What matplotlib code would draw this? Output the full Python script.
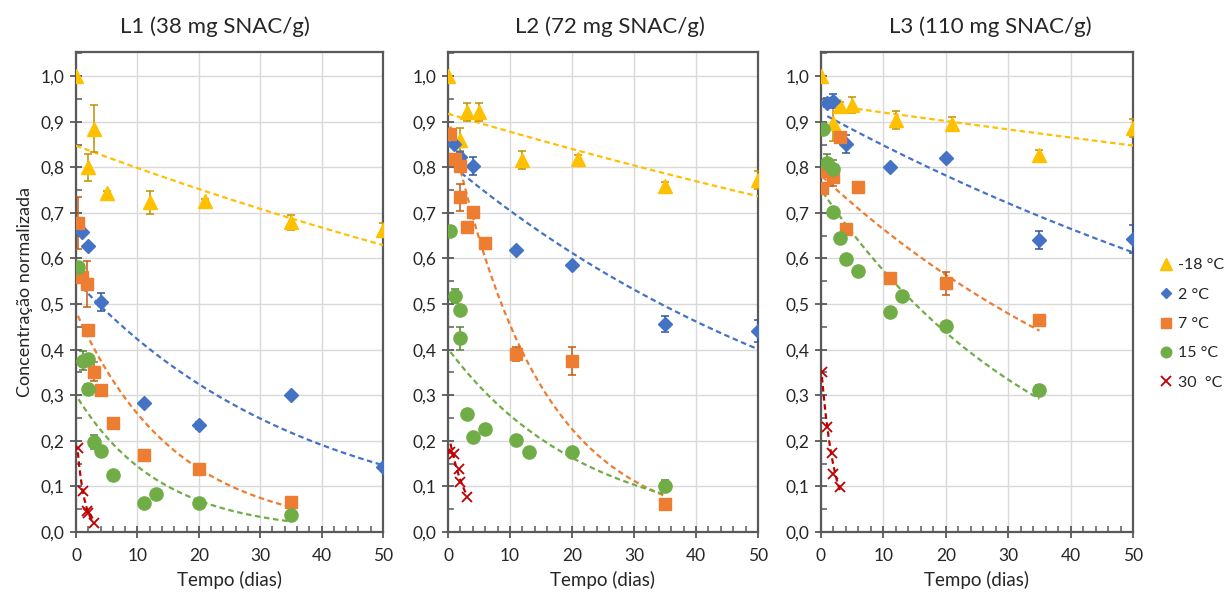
import numpy as np
import matplotlib
matplotlib.use("Agg")
import matplotlib.pyplot as plt
from matplotlib.ticker import MultipleLocator, FuncFormatter
from matplotlib.lines import Line2D

plt.rcParams['font.family'] = ['Lato', 'DejaVu Sans']

panel_titles = ["L1 (38 mg SNAC/g)", "L2 (72 mg SNAC/g)", "L3 (110 mg SNAC/g)"]
series_labels = ["-18 °C", "2 °C", "7 °C", "15 °C", "30  °C"]
x_label = "Tempo (dias)"
y_label = "Concentração normalizada"

# ---------------- L1 ----------------
L1_m18_x = [0, 2, 3, 5, 12, 21, 35, 50]
L1_m18_y = [1.0, 0.80, 0.885, 0.743, 0.723, 0.727, 0.679, 0.662]
L1_m18_e = [0, 0.03, 0.052, 0.004, 0.025, 0.004, 0.017, 0.015]

L1_2_x = [1, 2, 4, 11, 20, 35, 50]
L1_2_y = [0.659, 0.628, 0.505, 0.282, 0.234, 0.301, 0.143]
L1_2_e = [0.006, 0.004, 0.02, 0.004, 0.008, 0.005, 0.004]

L1_7_x = [0.3, 1, 1.8, 2, 3, 4, 6, 11, 20, 35]
L1_7_y = [0.677, 0.560, 0.544, 0.444, 0.352, 0.312, 0.240, 0.169, 0.138, 0.066]
L1_7_e = [0.057, 0.004, 0.05, 0.004, 0.02, 0.004, 0.004, 0.004, 0.004, 0.004]

L1_15_x = [0.4, 1.1, 1.9, 2, 3, 4, 6, 11, 13, 20, 35]
L1_15_y = [0.582, 0.376, 0.379, 0.314, 0.197, 0.178, 0.124, 0.063, 0.083, 0.064, 0.037]
L1_15_e = [0.004, 0.02, 0.004, 0.01, 0.015, 0.004, 0.004, 0.004, 0.004, 0.004, 0.004]

L1_30_x = [0.3, 1.1, 1.8, 2, 3]
L1_30_y = [0.185, 0.090, 0.045, 0.042, 0.020]

# ---------------- L2 ----------------
L2_m18_x = [0, 2, 3, 5, 12, 21, 35, 50]
L2_m18_y = [1.0, 0.861, 0.921, 0.921, 0.816, 0.818, 0.759, 0.773]
L2_m18_e = [0, 0.025, 0.02, 0.02, 0.02, 0.01, 0.008, 0.02]

L2_2_x = [1, 2, 4, 11, 20, 35, 50]
L2_2_y = [0.852, 0.823, 0.803, 0.618, 0.586, 0.456, 0.441]
L2_2_e = [0.005, 0.01, 0.02, 0.004, 0.004, 0.018, 0.025]

L2_7_x = [0.4, 1.1, 1.9, 2, 3, 4, 6, 11, 20, 35]
L2_7_y = [0.874, 0.819, 0.803, 0.734, 0.670, 0.702, 0.633, 0.390, 0.375, 0.061]
L2_7_e = [0.01, 0.01, 0.01, 0.03, 0.004, 0.004, 0.008, 0.015, 0.03, 0.004]

L2_15_x = [0.4, 1.1, 2, 2, 3, 4, 6, 11, 13, 20, 35]
L2_15_y = [0.660, 0.518, 0.486, 0.425, 0.259, 0.208, 0.227, 0.202, 0.175, 0.176, 0.101]
L2_15_e = [0.01, 0.015, 0.004, 0.025, 0.004, 0.004, 0.004, 0.004, 0.004, 0.004, 0.013]

L2_30_x = [0.4, 1, 1.8, 2, 3]
L2_30_y = [0.175, 0.172, 0.138, 0.109, 0.077]

# ---------------- L3 ----------------
L3_m18_x = [0, 2, 3, 5, 12, 21, 35, 50]
L3_m18_y = [1.0, 0.897, 0.934, 0.937, 0.904, 0.895, 0.827, 0.887]
L3_m18_e = [0, 0.04, 0.01, 0.018, 0.02, 0.015, 0.012, 0.02]

L3_2_x = [1, 2, 4, 11, 20, 35, 50]
L3_2_y = [0.942, 0.946, 0.852, 0.800, 0.821, 0.641, 0.643]
L3_2_e = [0.01, 0.015, 0.02, 0.004, 0.004, 0.02, 0.03]

L3_7_x = [0.2, 0.5, 2, 3, 4, 6, 11, 20, 35]
L3_7_y = [0.755, 0.793, 0.778, 0.866, 0.665, 0.757, 0.558, 0.546, 0.466]
L3_7_e = [0.004, 0.01, 0.02, 0.004, 0.004, 0.01, 0.01, 0.025, 0.004]

L3_15_x = [0.3, 1, 2, 2, 3, 4, 6, 11, 13, 20, 35]
L3_15_y = [0.885, 0.810, 0.796, 0.702, 0.644, 0.598, 0.573, 0.483, 0.518, 0.453, 0.311]
L3_15_e = [0.004, 0.02, 0.02, 0.004, 0.004, 0.004, 0.004, 0.004, 0.004, 0.004, 0.012]

L3_30_x = [0.15, 1, 1.7, 2, 3]
L3_30_y = [0.350, 0.230, 0.174, 0.127, 0.098]

panels = [
    [(L1_m18_x, L1_m18_y, L1_m18_e), (L1_2_x, L1_2_y, L1_2_e), (L1_7_x, L1_7_y, L1_7_e),
     (L1_15_x, L1_15_y, L1_15_e), (L1_30_x, L1_30_y, None)],
    [(L2_m18_x, L2_m18_y, L2_m18_e), (L2_2_x, L2_2_y, L2_2_e), (L2_7_x, L2_7_y, L2_7_e),
     (L2_15_x, L2_15_y, L2_15_e), (L2_30_x, L2_30_y, None)],
    [(L3_m18_x, L3_m18_y, L3_m18_e), (L3_2_x, L3_2_y, L3_2_e), (L3_7_x, L3_7_y, L3_7_e),
     (L3_15_x, L3_15_y, L3_15_e), (L3_30_x, L3_30_y, None)],
]

colors = ['#FFC000', '#4472C4', '#ED7D31', '#70AD47', '#C00000']
err_colors = ['#BF9000', '#2F5597', '#C55A11', '#548235', '#C00000']
markers = ['^', 'D', 's', 'o', 'x']
msizes = [10.5, 7, 9, 9.5, 7]

W, H = 1225, 595
fig = plt.figure(figsize=(W / 100, H / 100), dpi=100)

axes_px = [(76, 383), (448, 758), (821, 1133)]
top_px, bot_px = 52, 532
title_x = [215, 610, 990]
axis_col = '#595959'
txt_col = '#262626'

def comma(v, pos):
    return f"{v:.1f}".replace('.', ',')

for p, (lx, rx) in enumerate(axes_px):
    ax = fig.add_axes([lx / W, 1 - bot_px / H, (rx - lx) / W, (bot_px - top_px) / H])
    ax.set_xlim(0, 50)
    ax.set_ylim(0, 1.053)
    ax.xaxis.set_major_locator(MultipleLocator(10))
    ax.xaxis.set_minor_locator(MultipleLocator(2))
    ax.yaxis.set_major_locator(MultipleLocator(0.1))
    ax.yaxis.set_minor_locator(MultipleLocator(0.05))
    ax.yaxis.set_major_formatter(FuncFormatter(comma))
    ax.grid(True, which='major', color='#D9D9D9', lw=1.0, zorder=0)
    ax.set_axisbelow(True)
    for s in ax.spines.values():
        s.set_color(axis_col)
        s.set_linewidth(1.6)
    ax.tick_params(which='major', direction='inout', length=9, width=1.3, color=axis_col,
                   labelsize=12.5, labelcolor=txt_col, pad=4)
    ax.tick_params(which='minor', direction='in', length=4, width=1.1, color=axis_col)
    ax.tick_params(axis='x', which='major', pad=7)
    ax.set_xlabel(x_label, fontsize=13.5, color=txt_col, labelpad=5)
    if p == 0:
        ax.set_ylabel(y_label, fontsize=13, color=txt_col, labelpad=5)
    fig.text(title_x[p] / W, 1 - 27 / H, panel_titles[p], ha='center', va='center',
             fontsize=16, color=txt_col)

    for i, (xs, ys, es) in enumerate(panels[p]):
        xs = np.asarray(xs, float)
        ys = np.asarray(ys, float)
        # exponential trendline (least squares on log values)
        k, b = np.polyfit(xs, np.log(ys), 1)
        xt = np.linspace(xs.min(), xs.max(), 200)
        ax.plot(xt, np.exp(b) * np.exp(k * xt), ls=(0, (2.5, 1.6)), lw=1.6,
                color=colors[i], zorder=3)
        if es is not None:
            ax.errorbar(xs, ys, yerr=es, fmt='none', ecolor=err_colors[i], elinewidth=1.1,
                        capsize=3, capthick=1.1, zorder=4)
        if markers[i] == 'x':
            ax.plot(xs, ys, ls='none', marker='x', ms=msizes[i], mew=1.3,
                    color=colors[i], zorder=5)
        else:
            ax.plot(xs, ys, ls='none', marker=markers[i], ms=msizes[i],
                    color=colors[i], mec=colors[i], zorder=5)

handles = []
for i in range(5):
    if markers[i] == 'x':
        h = Line2D([], [], ls='none', marker='x', ms=7, mew=1.3, color=colors[i])
    else:
        h = Line2D([], [], ls='none', marker=markers[i], ms=msizes[i] * 0.8, color=colors[i])
    handles.append(h)
fig.legend(handles, series_labels, loc='center left', bbox_to_anchor=(1160 / W, 1 - 324 / H),
           frameon=False, fontsize=11.5, labelspacing=0.95, handlelength=0.8,
           handletextpad=0.3, borderaxespad=0, borderpad=0, labelcolor=txt_col)

fig.savefig("out.png", dpi=100)
